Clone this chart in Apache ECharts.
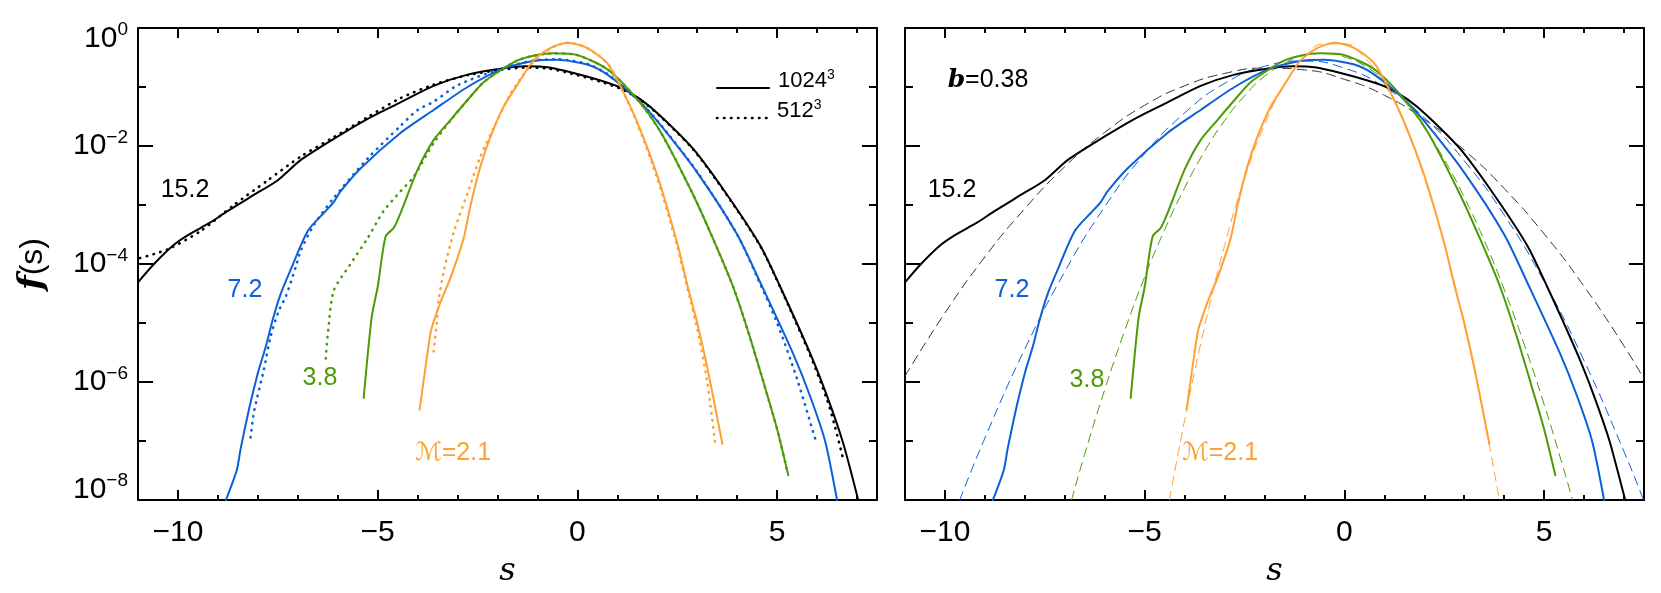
<!DOCTYPE html>
<html>
<head>
<meta charset="utf-8">
<script src="https://cdn.jsdelivr.net/npm/echarts@6.0.0/dist/echarts.min.js"></script>
<style>
html, body { margin: 0; padding: 0; background: #fff; }
#chart { width: 1661px; height: 593px; }
</style>
</head>
<body>
<div id="chart"></div>
<script>
// points are [s, log10 f(s)]
var sMajor = [-10, -5, 0, 5];
var sMinor = [-10, -9, -8, -7, -6, -5, -4, -3, -2, -1, 0, 1, 2, 3, 4, 5, 6, 7];

// M = 15.2
var m152_1024 = [[-11,-4.31],[-10.6,-4.0],[-10.13,-3.69],[-9.75,-3.51],[-9.2,-3.3],[-8.75,-3.10],[-8.1,-2.83],[-7.5,-2.58],[-6.93,-2.24],[-6.1,-1.88],[-5.25,-1.54],[-4.43,-1.26],[-3.6,-0.98],[-2.75,-0.79],[-1.93,-0.69],[-1.3,-0.65],[-0.7,-0.67],[0,-0.78],[0.58,-0.89],[1.08,-1.01],[1.58,-1.21],[2.08,-1.49],[2.9,-2.05],[3.75,-2.83],[4.58,-3.69],[5.08,-4.39],[5.83,-5.52],[6.25,-6.24],[6.65,-7.03],[7.03,-8.0]];
var m152_512 = [[-10.95,-3.9],[-10.25,-3.75],[-9.43,-3.44],[-8.6,-3.0],[-7.75,-2.58],[-6.93,-2.18],[-6.1,-1.85],[-5.25,-1.51],[-4.43,-1.19],[-3.6,-0.96],[-2.75,-0.8],[-1.93,-0.71],[-1.3,-0.67],[-0.7,-0.69],[0,-0.8],[0.58,-0.91],[1.08,-1.03],[1.58,-1.22],[2.08,-1.5],[2.9,-2.06],[3.75,-2.84],[4.58,-3.7],[5.08,-4.4],[5.83,-5.55],[6.25,-6.3],[6.45,-6.76],[6.65,-7.3]];
// M = 7.2
var m72_1024 = [[-8.8,-8.0],[-8.53,-7.5],[-8.43,-7.13],[-8.25,-6.55],[-8.13,-6.2],[-7.98,-5.8],[-7.8,-5.4],[-7.63,-4.95],[-7.43,-4.51],[-7.18,-4.1],[-6.75,-3.44],[-6.3,-3.1],[-6.1,-2.95],[-5.93,-2.77],[-5.43,-2.38],[-4.43,-1.78],[-3.6,-1.39],[-2.75,-1.0],[-1.93,-0.71],[-1.1,-0.56],[-0.5,-0.54],[0.25,-0.62],[0.75,-0.79],[1.5,-1.21],[2,-1.58],[3,-2.45],[4,-3.5],[4.63,-4.39],[5.4,-5.52],[5.83,-6.25],[6.2,-7.0],[6.5,-8.0]];
var m72_512 = [[-8.18,-6.94],[-8.1,-6.52],[-7.85,-5.79],[-7.68,-5.23],[-7.48,-4.8],[-7.3,-4.55],[-7.05,-4.05],[-6.93,-3.78],[-6.6,-3.34],[-6.1,-2.88],[-5.25,-2.21],[-4.43,-1.66],[-4.0,-1.39],[-3.6,-1.25],[-3.0,-0.97],[-2.0,-0.71],[-1.1,-0.55],[-0.5,-0.53],[0.25,-0.61],[0.75,-0.78],[1.5,-1.21],[2,-1.57],[3,-2.44],[4,-3.5],[4.55,-4.3],[5.0,-5.0],[5.5,-5.95],[5.95,-6.96]];
// M = 3.8
var m38_1024 = [[-5.35,-6.27],[-5.15,-4.9],[-5.0,-4.39],[-4.8,-3.53],[-4.6,-3.39],[-4.43,-3.14],[-4.0,-2.4],[-3.6,-1.9],[-3.18,-1.56],[-2.75,-1.22],[-2.35,-0.92],[-1.93,-0.72],[-1.5,-0.55],[-1.1,-0.47],[-0.6,-0.43],[0,-0.46],[0.75,-0.7],[1.5,-1.21],[2.08,-1.76],[2.9,-2.83],[3.4,-3.58],[3.9,-4.39],[4.3,-5.2],[4.7,-6.1],[5.0,-6.8],[5.28,-7.58]];
var m38_512 = [[-6.3,-5.6],[-6.23,-5.07],[-6.1,-4.45],[-5.7,-4.02],[-5.25,-3.56],[-4.85,-3.1],[-4.43,-2.77],[-4.1,-2.52],[-3.6,-1.95],[-3.18,-1.57],[-2.75,-1.22],[-2.35,-0.92],[-1.93,-0.72],[-1.5,-0.55],[-1.1,-0.47],[-0.6,-0.43],[0,-0.46],[0.75,-0.7],[1.5,-1.21],[2.08,-1.76],[2.9,-2.83],[3.4,-3.58],[3.9,-4.39],[4.3,-5.2],[4.7,-6.1],[5.0,-6.8],[5.25,-7.5]];
// M = 2.1
var m21_1024 = [[-3.95,-6.47],[-3.68,-5.18],[-3.6,-4.98],[-3.4,-4.6],[-3.18,-4.24],[-2.85,-3.57],[-2.68,-3.02],[-2.43,-2.35],[-2.18,-1.85],[-1.85,-1.34],[-1.5,-0.96],[-1.1,-0.55],[-0.68,-0.34],[-0.25,-0.25],[0.25,-0.34],[0.75,-0.6],[1.08,-0.99],[1.5,-1.6],[2.0,-2.5],[2.5,-3.65],[2.75,-4.35],[3.0,-5.0],[3.25,-5.75],[3.63,-7.05]];
var m21_512 = [[-3.6,-5.48],[-3.52,-5.0],[-3.47,-4.6],[-3.35,-4.14],[-3.1,-3.47],[-2.75,-2.8],[-2.43,-2.18],[-2.0,-1.56],[-1.68,-1.12],[-1.35,-0.79],[-1.0,-0.5],[-0.6,-0.32],[-0.25,-0.25],[0.25,-0.34],[0.75,-0.6],[1.08,-0.99],[1.5,-1.62],[2.0,-2.55],[2.5,-3.7],[2.75,-4.4],[3.0,-5.1],[3.25,-6.0],[3.45,-7.05]];

// lognormal models, b = 0.38 (right panel, dashed)
var fit152 = [[-11,-5.90],[-10,-4.83],[-9,-3.88],[-8,-3.06],[-7,-2.35],[-6,-1.77],[-5,-1.31],[-4,-0.98],[-3,-0.77],[-2,-0.68],[-1,-0.71],[0,-0.87],[1,-1.14],[2,-1.55],[3,-2.07],[4,-2.72],[5,-3.49],[6,-4.38],[7,-5.39],[7.5,-5.95]];
var fit72 = [[-9.63,-8.0],[-9,-6.95],[-8,-5.44],[-7,-4.13],[-6,-3.03],[-5,-2.13],[-4,-1.44],[-3,-0.94],[-2,-0.65],[-1,-0.56],[0,-0.68],[1,-1.00],[2,-1.52],[3,-2.25],[4,-3.17],[5,-4.30],[6,-5.64],[7,-7.18],[7.5,-8.02]];
var fit38 = [[-6.83,-8.0],[-6.5,-7.22],[-6,-6.13],[-5.5,-5.13],[-5,-4.22],[-4.5,-3.42],[-4,-2.71],[-3.5,-2.09],[-3,-1.57],[-2.5,-1.15],[-2,-0.82],[-1.5,-0.60],[-1,-0.46],[-0.5,-0.43],[0,-0.49],[0.5,-0.64],[1,-0.89],[1.5,-1.24],[2,-1.69],[2.5,-2.23],[3,-2.87],[3.5,-3.60],[4,-4.43],[4.5,-5.36],[5,-6.38],[5.5,-7.50],[5.71,-8.0]];
var fit21 = [[-4.38,-8.0],[-4,-6.65],[-3.5,-5.06],[-3,-3.69],[-2.5,-2.55],[-2,-1.64],[-1.5,-0.96],[-1,-0.50],[-0.5,-0.27],[0,-0.27],[0.5,-0.50],[1,-0.95],[1.5,-1.63],[2,-2.54],[2.5,-3.67],[3,-5.03],[3.5,-6.62],[3.88,-8.0]];

var machLabels = ['15.2', '7.2', '3.8', '{m|\u2133}=2.1'];
var resLabels = ['1024', '512'];

var BLACK = '#000', BLUE = '#0b5fd9', GREEN = '#4e9a06', ORANGE = '#ffa033';
var FONT = '"Liberation Sans", "DejaVu Sans", sans-serif';
var SERIF = '"DejaVu Serif", serif';
var DOT = [0.5, 6.5], DASH = [9, 6];

var chart = echarts.init(document.getElementById('chart'));

var merge = function (a, b) {
    return echarts.util.merge(echarts.util.clone(a), b, true);
};

var minus = function (v) {
    return v < 0 ? '\u2212' + Math.abs(v) : String(v);
};

var xAxes = function (g) {
    var base = {
        type: 'value', gridIndex: g, min: -11, max: 7.5,
        splitLine: {show: false},
        axisLine: {show: false, onZero: false},
        axisLabel: {show: false}
    };
    var tick = function (vals, len) {
        return {show: true, inside: true, length: len, customValues: vals, lineStyle: {color: BLACK, width: 2}};
    };
    var line = {show: true, onZero: false, lineStyle: {color: BLACK, width: 2}};
    return [
        merge(base, {
            position: 'bottom', axisLine: line, axisTick: tick(sMajor, 10),
            axisLabel: {show: true, customValues: sMajor, formatter: minus, color: BLACK,
                fontFamily: FONT, fontSize: 30, margin: 18},
            name: 's', nameLocation: 'middle', nameGap: 56,
            nameTextStyle: {fontFamily: SERIF, fontStyle: 'italic', fontSize: 32, color: BLACK}
        }),
        merge(base, {position: 'bottom', axisTick: tick(sMinor, 5)}),
        merge(base, {position: 'top', axisLine: line, axisTick: tick(sMajor, 10)}),
        merge(base, {position: 'top', axisTick: tick(sMinor, 5)})
    ];
};

var yAxes = function (g, labels) {
    var base = {
        type: 'value', gridIndex: g, min: -8, max: 0, interval: 2,
        splitLine: {show: false},
        axisLine: {show: true, onZero: false, lineStyle: {color: BLACK, width: 2}},
        axisTick: {show: true, inside: true, length: 15, lineStyle: {color: BLACK, width: 2}},
        minorTick: {show: true, splitNumber: 2, length: 8, lineStyle: {color: BLACK, width: 2}},
        axisLabel: {show: false}
    };
    var left = merge(base, {position: 'left'});
    if (labels) {
        left.axisLabel = {
            show: true, margin: 10,
            formatter: function (v) {
                var txt = '{b|10}{s|' + (v === 0 ? '0' : minus(v)) + '}';
                // end labels sit a little inside the frame, as in the original
                if (v === 0) return '{gap| }\n' + txt;
                if (v === -8) return txt + '\n{gap| }';
                return txt;
            },
            rich: {
                b: {fontFamily: FONT, fontSize: 30, color: BLACK, lineHeight: 36},
                s: {fontFamily: FONT, fontSize: 19, color: BLACK, lineHeight: 36, verticalAlign: 'top'},
                gap: {fontSize: 10, lineHeight: 21}
            }
        };
        left.name = '{f|f}{n|(s)}';
        left.nameLocation = 'middle';
        left.nameGap = 88;
        left.nameTextStyle = {
            rich: {
                f: {fontFamily: SERIF, fontStyle: 'italic', fontWeight: 'bold', fontSize: 34, color: BLACK},
                n: {fontFamily: FONT, fontSize: 32, color: BLACK}
            }
        };
    }
    return [left, merge(base, {position: 'right'})];
};

var curve = function (data, g, color, type, width, smooth) {
    return {
        type: 'line', xAxisIndex: g * 4, yAxisIndex: g * 2, data: data,
        symbol: 'none', showSymbol: false, silent: true, clip: true,
        smooth: smooth,
        lineStyle: {color: color, width: width, type: type, cap: 'round'}
    };
};

var series = [
    curve(m152_1024, 0, BLACK, 'solid', 2, 0.25),
    curve(m152_512, 0, BLACK, DOT, 2.6, 0.25),
    curve(m72_512, 0, BLUE, DOT, 2.6, 0.25),
    curve(m38_512, 0, GREEN, DOT, 2.6, 0.25),
    curve(m21_512, 0, ORANGE, DOT, 2.6, 0.25),
    curve(m72_1024, 0, BLUE, 'solid', 2, 0.25),
    curve(m38_1024, 0, GREEN, 'solid', 2, 0.25),
    curve(m21_1024, 0, ORANGE, 'solid', 2, 0.25),

    curve(fit152, 1, '#333', DASH, 1, 0.5),
    curve(fit72, 1, BLUE, DASH, 1, 0.5),
    curve(fit38, 1, GREEN, DASH, 1, 0.5),
    curve(fit21, 1, ORANGE, DASH, 1, 0.5),
    curve(m152_1024, 1, BLACK, 'solid', 2, 0.25),
    curve(m72_1024, 1, BLUE, 'solid', 2, 0.25),
    curve(m38_1024, 1, GREEN, 'solid', 2, 0.25),
    curve(m21_1024, 1, ORANGE, 'solid', 2, 0.25)
];

var note = function (x, y, text, color, size, align) {
    return {
        type: 'text', x: x, y: y, silent: true,
        style: {
            text: text, fill: color, align: align || 'center', verticalAlign: 'middle',
            font: size + 'px ' + FONT,
            rich: {
                m: {fontFamily: '"DejaVu Sans", serif', fontStyle: 'italic', fontSize: size, fill: color},
                b: {fontFamily: SERIF, fontStyle: 'italic', fontWeight: 'bold', fontSize: size, fill: BLACK},
                n: {fontFamily: FONT, fontSize: size, fill: BLACK, lineHeight: 26},
                p: {fontFamily: FONT, fontSize: 14, fill: BLACK, lineHeight: 26, verticalAlign: 'top'}
            }
        }
    };
};

var key = function (y, dash, width) {
    return {
        type: 'line', silent: true,
        shape: {x1: 717, y1: y, x2: 769, y2: y},
        style: {stroke: BLACK, lineWidth: width, lineDash: dash, lineCap: 'round'}
    };
};

chart.setOption({
    animation: false,
    backgroundColor: '#fff',
    grid: [
        {left: 138, top: 28, width: 739, height: 477},
        {left: 905, top: 28, width: 739, height: 477}
    ],
    xAxis: xAxes(0).concat(xAxes(1)),
    yAxis: yAxes(0, true).concat(yAxes(1, false)),
    graphic: [
        key(88, null, 2),
        key(118, DOT, 2.6),
        note(778, 81, '{n|' + resLabels[0] + '}{p|3}', BLACK, 22, 'left'),
        note(777, 111, '{n|' + resLabels[1] + '}{p|3}', BLACK, 22, 'left'),
        note(185, 190, machLabels[0], BLACK, 25),
        note(245, 290, machLabels[1], BLUE, 25),
        note(320, 378, machLabels[2], GREEN, 25),
        note(453, 453, machLabels[3], ORANGE, 25),
        note(988, 80, '{b|b}=0.38', BLACK, 25),
        note(952, 190, machLabels[0], BLACK, 25),
        note(1012, 290, machLabels[1], BLUE, 25),
        note(1087, 380, machLabels[2], GREEN, 25),
        note(1220, 453, machLabels[3], ORANGE, 25)
    ],
    series: series
});
</script>
</body>
</html>
